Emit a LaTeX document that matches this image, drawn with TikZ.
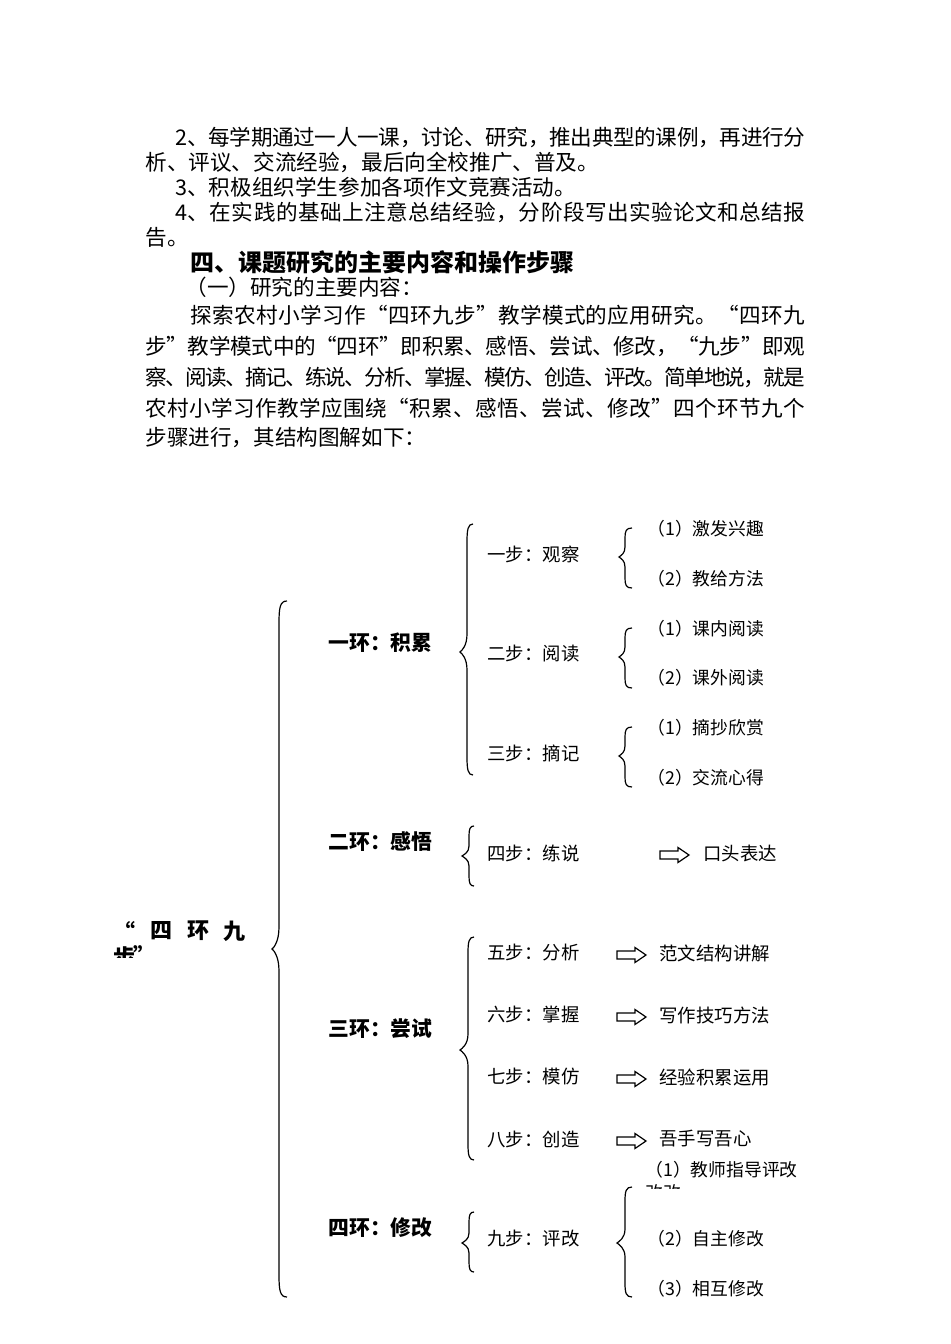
\documentclass[tikz,border=0pt]{standalone}
\usepackage{fontspec}
\setmainfont{Noto Sans CJK SC}
\def\sprfirst#1{#1\sprrest}
\def\sprrest#1{\ifx#1\relax\else\hskip0pt plus1fil minus1fil #1\expandafter\sprrest\fi}
\newcommand\spreadline[2]{\makebox[#1][s]{\sprfirst#2\relax}}
% brace: #1 x right ends, #2 x vertical, #3 x tip, #4 ytop, #5 ymid, #6 ybot, #7 curl
\newcommand\mybrace[7]{%
  \draw[bracestyle] (#1,#4) .. controls (#2+1,#4) and (#2,#4+#7*0.3) .. (#2,#4+#7)
    -- (#2,#5-#7) .. controls (#2,#5-#7*0.35) and (#3+2,#5-1.5) .. (#3,#5)
    .. controls (#3+2,#5+1.5) and (#2,#5+#7*0.35) .. (#2,#5+#7)
    -- (#2,#6-#7) .. controls (#2,#6-#7*0.3) and (#2+1,#6) .. (#1,#6);}
\newcommand\myarrow[2]{%
  \draw[arrowstyle] (#1,#2-4) -- (#1+18,#2-4) -- (#1+18,#2-7.5) -- (#1+29,#2)
    -- (#1+18,#2+7.5) -- (#1+18,#2+4) -- (#1,#2+4) -- cycle;}
\begin{document}
\begin{tikzpicture}[x=0.5pt,y=-0.5pt,
  body/.style={anchor=west,inner sep=0pt,font=\fontsize{10.8}{13}\selectfont},
  headline/.style={anchor=west,inner sep=0pt,font=\fontsize{12}{14}\selectfont\bfseries},
  ring/.style={anchor=west,inner sep=0pt,font=\fontsize{10.4}{12}\selectfont\bfseries},
  stepn/.style={anchor=west,inner sep=0pt,font=\fontsize{9.2}{11}\selectfont},
  subn/.style={anchor=west,inner sep=0pt,font=\fontsize{8.9}{11}\selectfont},
  titlech/.style={anchor=center,inner sep=0pt,font=\fontsize{11}{12}\selectfont\bfseries},
  bracestyle/.style={line width=0.6pt},
  arrowstyle/.style={line width=0.6pt}]
\useasboundingbox[fill=white] (0,0) rectangle (950,1344);
% ---- paragraph text ----
\node[body] (l1) at (175,137) {\spreadline{315pt}{2、每学期通过一人一课，讨论、研究，推出典型的课例，再进行分}};
\node[body] (l2) at (145,162) {析、评议、交流经验，最后向全校推广、普及。};
\node[body] (l3) at (175,187) {3、积极组织学生参加各项作文竞赛活动。};
\node[body] (l4) at (175,212) {\spreadline{315pt}{4、在实践的基础上注意总结经验，分阶段写出实验论文和总结报}};
\node[body] (l5) at (145,237) {告。};
\node[headline] (l6) at (190,262) {四、课题研究的主要内容和操作步骤};
\node[body] (l7) at (185,287) {（一）研究的主要内容：};
\node[body] (l8) at (190,315) {\spreadline{307.5pt}{探索农村小学习作“四环九步”教学模式的应用研究。“四环九}};
\node[body] (l9) at (145,346) {\spreadline{330pt}{步”教学模式中的“四环”即积累、感悟、尝试、修改，“九步”即观}};
\node[body] (l10) at (145,377) {\spreadline{330pt}{察、阅读、摘记、练说、分析、掌握、模仿、创造、评改。简单地说，就是}};
\node[body] (l11) at (145,408) {\spreadline{330pt}{农村小学习作教学应围绕“积累、感悟、尝试、修改”四个环节九个}};
\node[body] (l12) at (145,438) {步骤进行，其结构图解如下：};
% ---- title (clipped) ----
\begin{scope}
\clip (100,905) rectangle (262,957);
\node[titlech] (t1) at (124,931) {“};
\node[titlech] (t2) at (161,931) {四};
\node[titlech] (t3) at (198,931) {环};
\node[titlech] (t4) at (234,931) {九};
\node[titlech] (t5) at (124,957) {步};
\node[titlech] (t6) at (144,955) {”};
\end{scope}
% ---- big brace ----
\mybrace{287}{279}{272}{601}{949}{1297}{22}
% ---- rings ----
\node[ring] (r1) at (328,643) {一环：积累};
\node[ring] (r2) at (328,842) {二环：感悟};
\node[ring] (r3) at (328,1029) {三环：尝试};
\node[ring] (r4) at (328,1228) {四环：修改};
% ring braces
\mybrace{473}{467}{460}{524}{652}{775}{18}
\mybrace{474}{469}{462}{826}{856}{886}{10}
\mybrace{474}{468}{460}{937}{1050}{1160}{16}
\mybrace{474}{469}{462}{1212}{1243}{1272}{10}
% ---- steps ----
\node[stepn] (s1) at (487,554) {一步：观察};
\node[stepn] (s2) at (487,654) {二步：阅读};
\node[stepn] (s3) at (487,753) {三步：摘记};
\node[stepn] (s4) at (487,853) {四步：练说};
\node[stepn] (s5) at (487,953) {五步：分析};
\node[stepn] (s6) at (487,1015) {六步：掌握};
\node[stepn] (s7) at (487,1077) {七步：模仿};
\node[stepn] (s8) at (487,1139) {八步：创造};
\node[stepn] (s9) at (487,1239) {九步：评改};
% step braces
\mybrace{632}{625}{619}{528}{557}{588}{10}
\mybrace{632}{625}{619}{628}{657}{688}{10}
\mybrace{632}{625}{619}{727}{756}{787}{10}
\mybrace{632}{625}{617}{1187}{1243}{1297}{14}
% ---- sub items ----
\node[subn] (a1) at (647,529) {（1）激发兴趣};
\node[subn] (a2) at (647,579) {（2）教给方法};
\node[subn] (b1) at (647,629) {（1）课内阅读};
\node[subn] (b2) at (647,678) {（2）课外阅读};
\node[subn] (c1) at (647,728) {（1）摘抄欣赏};
\node[subn] (c2) at (647,778) {（2）交流心得};
\node[subn] (d1) at (645,1170) {（1）教师指导评改};
\begin{scope}
\clip (600,1178) rectangle (800,1188);
\node[subn] (d1b) at (645,1193) {改改};
\end{scope}
\node[subn] (d2) at (647,1239) {（2）自主修改};
\node[subn] (d3) at (647,1289) {（3）相互修改};
% ---- arrows and results ----
\myarrow{660}{855}
\node[stepn] (e4) at (703,853) {口头表达};
\myarrow{617}{955}
\node[stepn] (e5) at (659,953) {范文结构讲解};
\myarrow{617}{1017}
\node[stepn] (e6) at (659,1015) {写作技巧方法};
\myarrow{617}{1079}
\node[stepn] (e7) at (659,1077) {经验积累运用};
\myarrow{617}{1141}
\node[stepn] (e8) at (659,1139) {吾手写吾心};
\end{tikzpicture}
\end{document}
